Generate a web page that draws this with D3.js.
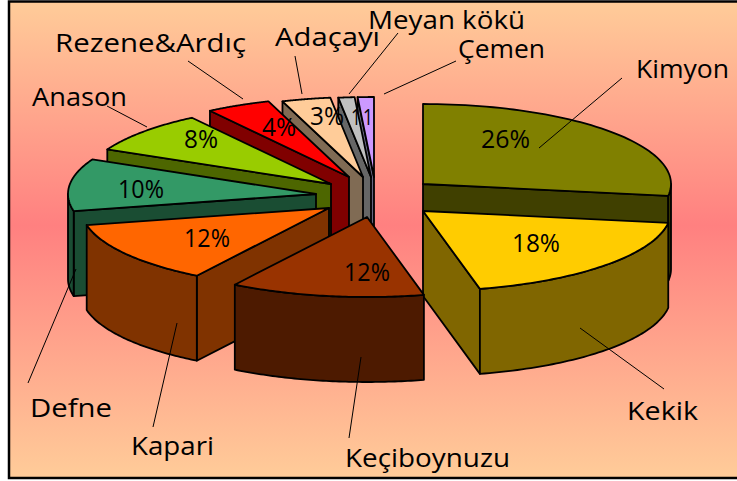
<!DOCTYPE html>
<html><head><meta charset="utf-8">
<script src="https://cdn.jsdelivr.net/npm/d3@7"></script>
<style>html,body{margin:0;padding:0;background:#fff}svg{display:block}text{font-family:"Open Sans","Noto Sans",sans-serif;fill:#000}</style>
</head><body><svg id="c" width="737" height="481"></svg>
<script>
// Data
const categories = ["Kimyon","Kekik","Keçiboynuzu","Kapari","Defne","Anason","Rezene&Ardıç","Adaçayı","Meyan kökü","Çemen"];
const values = [26,18,12,12,10,8,4,3,1,1];
const valueLabels = ["26%","18%","12%","12%","10%","8%","4%","3%","1","1"];

// Styling and layout (separate from the data)
const topColors  = ["#808000","#ffcc00","#993300","#ff6600","#339966","#99cc00","#ff0000","#ffcc99","#c0c0c0","#cc99ff"];
const wallColors = ["#404000","#806600","#4d1a00","#803300","#1a4d33","#4d6600","#800000","#806b54","#666666","#666680"];
const apexX = [423,423,367,329,316,331,349,363,371,374];
const apexY = [184,211,217,208,194,184,177,177,177,177];
const paintOrder = [9,8,7,6,5,4,3,0,1,2];
const labelBox = [[636,729,78],[627,698,420],[345,510,467],[131,214,455],[30,112,417],[32,127,106],[55,246,52],[275,380,46],[368,525,29],[458,545,58]];
const pctBox = [[481,530,148],[512,560,252],[344,390,281],[184,230,247],[118,164,198],[184,218,148],[262,296,136],[310,344,125],[351,361,125],[363,373,125]];
const pctSize = [25,25,25,25,25,25,25,25,22,22];
const leaders = [[622,78,539,148],[664,389,580,328],[349,438,361,357],[153,427,177,323],[28,383,76,269],[107,106,147,127],[188,61,243,99],[295,56,302,94],[398,33,349,94],[456,61,384,94]];

const W = 737, H = 481, depth = 85;
const svg = d3.select("#c");
const defs = svg.append("defs");
const g = defs.append("linearGradient").attr("id","bg").attr("x1",0).attr("x2",0).attr("y1",0).attr("y2",1);
g.append("stop").attr("offset",0).attr("stop-color","#ffcc99");
g.append("stop").attr("offset",0.47).attr("stop-color","#ff8080");
g.append("stop").attr("offset",1).attr("stop-color","#ffcc99");

svg.append("rect").attr("x",0).attr("y",0).attr("width",W).attr("height",H).attr("fill","#fff");
svg.append("rect").attr("x",9).attr("y",1.5).attr("width",W+10).attr("height",476.5)
  .attr("fill","url(#bg)").attr("stroke","#000").attr("stroke-width",2.5);

const pie = d3.pie().sort(null).value(d => d)(values);
const sx = d3.scaleLinear().domain([0,1]).range([0,248]);
const sy = d3.scaleLinear().domain([0,1]).range([0,80]);
const line = d3.line();
const rim = (i,a,dy=0) => [apexX[i]+sx(Math.sin(a)), apexY[i]-sy(Math.cos(a))+dy];
const arcAngles = (a0,a1) => d3.range(0,61).map(k => a0+(a1-a0)*k/60);
const closed = pts => line(pts)+"Z";
const poly = (pts,fill) => svg.append("path").attr("d",closed(pts)).attr("fill",fill)
  .attr("stroke","#000").attr("stroke-width",1.8).attr("stroke-linejoin","round");

paintOrder.forEach(i => {
  const {startAngle:a0,endAngle:a1} = pie[i];
  const ax = apexX[i], ay = apexY[i];
  // only the cut faces turned toward the viewer are drawn
  if (Math.sin(a0) < 0) poly([[ax,ay],rim(i,a0),rim(i,a0,depth),[ax,ay+depth]],wallColors[i]);
  if (Math.sin(a1) > 0) poly([[ax,ay],rim(i,a1),rim(i,a1,depth),[ax,ay+depth]],wallColors[i]);
  const f0 = Math.max(a0,Math.PI/2), f1 = Math.min(a1,Math.PI*1.5);
  if (f1>f0) {
    const angs = arcAngles(f0,f1);
    poly(angs.map(a=>rim(i,a)).concat(angs.slice().reverse().map(a=>rim(i,a,depth))),wallColors[i]);
  }
  poly([[ax,ay]].concat(arcAngles(a0,a1).map(a=>rim(i,a))),topColors[i]);
});

svg.selectAll("line.leader").data(leaders).join("line").attr("class","leader")
  .attr("x1",d=>d[0]).attr("y1",d=>d[1]).attr("x2",d=>d[2]).attr("y2",d=>d[3])
  .attr("stroke","#000").attr("stroke-width",1);

const put = (txt,box,size) => svg.append("text").attr("x",box[0]).attr("y",box[2])
  .attr("font-size",size).attr("textLength",box[1]-box[0]).attr("lengthAdjust","spacingAndGlyphs").text(txt);
categories.forEach((c,i)=>put(c,labelBox[i],26));
valueLabels.forEach((c,i)=>put(c,pctBox[i],pctSize[i]));
</script></body></html>
